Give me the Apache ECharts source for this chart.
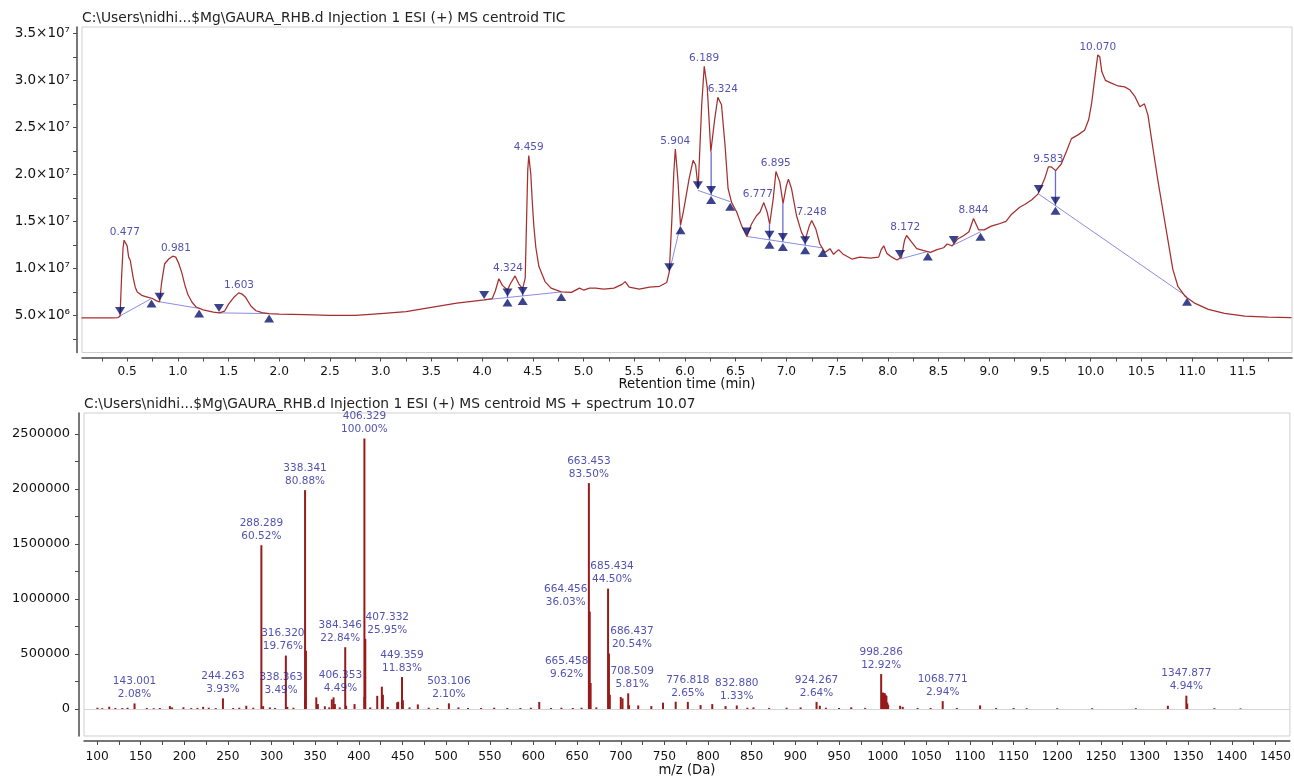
<!DOCTYPE html>
<html><head><meta charset="utf-8">
<script src="https://cdn.jsdelivr.net/npm/echarts@6/dist/echarts.min.js"></script>
<style>html,body{margin:0;padding:0;background:#fff}#c{width:1294px;height:779px}</style>
</head><body><div id="c"></div>
<script>
// ---------- TOP: TIC chromatogram ----------
const topTitle = 'C:\\Users\\nidhi...$Mg\\GAURA_RHB.d Injection 1 ESI (+) MS centroid TIC';
const bottomTitle = 'C:\\Users\\nidhi...$Mg\\GAURA_RHB.d Injection 1 ESI (+) MS centroid MS + spectrum 10.07';

const ticTime = [0.05,0.20,0.35,0.41,0.43,0.445,0.46,0.47,0.485,0.50,0.515,0.53,0.545,0.56,0.58,0.60,0.65,0.70,0.75,0.79,0.82,0.84,0.87,0.91,0.95,0.98,1.01,1.04,1.07,1.10,1.14,1.18,1.25,1.35,1.41,1.46,1.50,1.55,1.60,1.63,1.67,1.72,1.77,1.83,1.90,2.0,2.25,2.5,2.75,3.0,3.25,3.5,3.75,3.9,4.02,4.10,4.13,4.165,4.20,4.25,4.28,4.325,4.365,4.40,4.425,4.44,4.45,4.46,4.47,4.48,4.495,4.51,4.53,4.56,4.62,4.68,4.78,4.88,4.96,5.0,5.06,5.12,5.2,5.3,5.38,5.41,5.45,5.55,5.65,5.75,5.82,5.845,5.87,5.89,5.905,5.93,5.956,5.98,6.00,6.04,6.08,6.105,6.13,6.165,6.19,6.22,6.255,6.29,6.324,6.36,6.395,6.425,6.46,6.51,6.56,6.61,6.655,6.705,6.74,6.777,6.81,6.835,6.87,6.897,6.935,6.967,7.0,7.02,7.05,7.10,7.15,7.187,7.225,7.25,7.29,7.33,7.38,7.43,7.465,7.515,7.56,7.645,7.725,7.83,7.91,7.935,7.96,7.99,8.04,8.09,8.135,8.165,8.185,8.235,8.285,8.355,8.42,8.485,8.55,8.585,8.635,8.685,8.75,8.80,8.845,8.895,8.95,9.02,9.085,9.165,9.215,9.30,9.35,9.42,9.48,9.545,9.583,9.61,9.655,9.71,9.76,9.81,9.875,9.94,9.98,10.01,10.045,10.07,10.09,10.11,10.145,10.205,10.27,10.335,10.385,10.435,10.485,10.53,10.565,10.615,10.665,10.715,10.765,10.81,10.86,10.93,11.03,11.16,11.32,11.52,11.75,11.98];
const ticIntensity = [4.75e6,4.73e6,4.75e6,4.78e6,4.95e6,9.0e6,1.22e7,1.30e7,1.28e7,1.24e7,1.12e7,1.09e7,1.08e7,9.0e6,8.0e6,7.5e6,7.1e6,6.95e6,6.8e6,6.55e6,6.45e6,8.5e6,1.05e7,1.10e7,1.13e7,1.12e7,1.05e7,9.5e6,8.2e6,7.2e6,6.4e6,5.9e6,5.6e6,5.35e6,5.27e6,5.45e6,6.2e6,6.9e6,7.4e6,7.3e6,6.9e6,6.0e6,5.5e6,5.3e6,5.2e6,5.14e6,5.08e6,5.02e6,5.0e6,5.2e6,5.4e6,5.85e6,6.3e6,6.5e6,6.65e6,6.8e6,7.6e6,8.9e6,8.2e6,7.7e6,8.4e6,9.2e6,8.3e6,7.85e6,9.0e6,1.6e7,2.05e7,2.2e7,2.18e7,2.0e7,1.7e7,1.45e7,1.22e7,1.02e7,8.6e6,7.9e6,7.5e6,7.45e6,7.9e6,7.7e6,7.9e6,7.9e6,7.8e6,7.9e6,8.3e6,8.6e6,8.0e6,7.8e6,8.0e6,8.1e6,8.5e6,9.6e6,1.5e7,2.02e7,2.27e7,1.95e7,1.46e7,1.58e7,1.70e7,1.95e7,2.15e7,2.10e7,1.85e7,2.74e7,3.15e7,2.92e7,2.24e7,2.56e7,2.82e7,2.74e7,2.31e7,1.85e7,1.70e7,1.60e7,1.45e7,1.34e7,1.47e7,1.56e7,1.60e7,1.70e7,1.60e7,1.47e7,1.74e7,2.03e7,1.92e7,1.69e7,1.88e7,1.95e7,1.85e7,1.56e7,1.38e7,1.31e7,1.45e7,1.51e7,1.42e7,1.26e7,1.17e7,1.21e7,1.15e7,1.20e7,1.15e7,1.10e7,1.12e7,1.11e7,1.12e7,1.20e7,1.24e7,1.16e7,1.12e7,1.09e7,1.12e7,1.30e7,1.35e7,1.28e7,1.21e7,1.19e7,1.17e7,1.20e7,1.22e7,1.26e7,1.24e7,1.31e7,1.35e7,1.39e7,1.53e7,1.41e7,1.41e7,1.45e7,1.47e7,1.50e7,1.57e7,1.65e7,1.68e7,1.73e7,1.79e7,1.95e7,2.08e7,2.08e7,2.04e7,2.11e7,2.24e7,2.38e7,2.42e7,2.47e7,2.58e7,2.76e7,3.06e7,3.27e7,3.25e7,3.09e7,3.0e7,2.97e7,2.94e7,2.93e7,2.9e7,2.83e7,2.72e7,2.75e7,2.63e7,2.27e7,1.92e7,1.60e7,1.28e7,9.9e6,8.1e6,7.05e6,6.28e6,5.64e6,5.22e6,4.93e6,4.82e6,4.76e6];

// peak apex labels
const peakRT    = [0.477,0.981,1.603,4.324,4.459,5.904,6.189,6.324,6.777,6.895,7.248,8.172,8.844,9.583,10.070];
const peakLabel = ['0.477','0.981','1.603','4.324','4.459','5.904','6.189','6.324','6.777','6.895','7.248','8.172','8.844','9.583','10.070'];
const peakApex  = [1.30e7,1.13e7,7.4e6,9.2e6,2.2e7,2.27e7,3.15e7,2.82e7,1.70e7,2.03e7,1.51e7,1.35e7,1.53e7,2.08e7,3.27e7];

// integration start (down triangles) and end (up triangles)
const startTime = [0.43,0.82,1.406,4.02,4.25,4.40,5.845,6.127,6.258,6.61,6.833,6.965,7.185,8.12,8.65,9.488,9.653];
const startValue = [4.95e6,6.45e6,5.27e6,6.65e6,6.91e6,7.08e6,9.6e6,1.83e7,1.78e7,1.34e7,1.304e7,1.282e7,1.246e7,1.10e7,1.25e7,1.79e7,1.667e7];
const endTime = [0.74,1.21,1.90,4.25,4.40,4.78,5.956,6.258,6.446,6.833,6.965,7.185,7.359,8.394,8.914,9.653,10.95];
const endValue = [6.8e6,5.75e6,5.2e6,6.91e6,7.08e6,7.5e6,1.46e7,1.78e7,1.71e7,1.304e7,1.282e7,1.246e7,1.218e7,1.18e7,1.39e7,1.667e7,6.99e6];

// baselines: [t1, v1, t2, v2]
const baselines = [
  [0.43,4.95e6,0.74,6.8e6],
  [0.82,6.45e6,1.21,5.75e6],
  [1.406,5.27e6,1.90,5.2e6],
  [4.02,6.65e6,4.78,7.5e6],
  [5.845,9.6e6,5.956,1.46e7],
  [6.127,1.83e7,6.446,1.71e7],
  [6.61,1.34e7,7.359,1.218e7],
  [8.12,1.10e7,8.394,1.18e7],
  [8.65,1.25e7,8.914,1.39e7],
  [9.488,1.79e7,10.95,6.99e6]
];
// drop lines: [t, curve value, baseline value]
const dropLines = [
  [4.25,7.7e6,6.91e6],
  [4.40,7.85e6,7.08e6],
  [6.258,2.24e7,1.78e7],
  [6.833,1.47e7,1.304e7],
  [6.965,1.69e7,1.282e7],
  [7.185,1.31e7,1.246e7],
  [9.653,2.04e7,1.667e7]
];

const topXLabels = [0.5,1.0,1.5,2.0,2.5,3.0,3.5,4.0,4.5,5.0,5.5,6.0,6.5,7.0,7.5,8.0,8.5,9.0,9.5,10.0,10.5,11.0,11.5];
const topXTicks = [0.25,0.5,0.75,1.0,1.25,1.5,1.75,2.0,2.25,2.5,2.75,3.0,3.25,3.5,3.75,4.0,4.25,4.5,4.75,5.0,5.25,5.5,5.75,6.0,6.25,6.5,6.75,7.0,7.25,7.5,7.75,8.0,8.25,8.5,8.75,9.0,9.25,9.5,9.75,10.0,10.25,10.5,10.75,11.0,11.25,11.5,11.75];
const topYLabelValues = [5e6,1e7,1.5e7,2e7,2.5e7,3e7,3.5e7];
const topYLabelText = ['5.0×10⁶','1.0×10⁷','1.5×10⁷','2.0×10⁷','2.5×10⁷','3.0×10⁷','3.5×10⁷'];
const topYTicks = [2.5e6,5e6,7.5e6,1e7,1.25e7,1.5e7,1.75e7,2e7,2.25e7,2.5e7,2.75e7,3e7,3.25e7,3.5e7];

// ---------- BOTTOM: MS spectrum ----------
const specMz = [100.5,106,114,121,129,135,143.001,157,165,172,183.5,186,199,208,215,221.6,228,236,244.263,256,263,271,279,288.289,290.3,298,304,316.32,318,325,338.341,338.363,339.344,351.2,353,361,366,369,371,372.5,378,384.346,385.35,395,406.329,406.353,407.332,413,421,426.3,427.5,433,443.8,445,449.359,450.4,458,467.5,480,490,503.106,514,525,540,555,570,585,597,606.6,620,632,645,655,663.453,664.456,665.458,672,685.434,686.437,687.44,700,702,708.509,709.5,720,735,748.4,762.9,776.818,791.4,804.8,820,832.88,845,852,870,890,906,924.267,928,935,950,964,980,998.286,999.3,1000.3,1001.3,1002.3,1003.3,1004.3,1005.3,1006.3,1020,1023,1040,1055,1068.771,1085,1111.6,1130,1150,1165,1200,1240,1290,1326.7,1347.877,1348.88,1380,1410];
const specIntensity = [1.2e4,8e3,2.1e4,1e4,9e3,1.2e4,5.1e4,1e4,8e3,1e4,2.7e4,1.5e4,1.6e4,9e3,1e4,2e4,1.2e4,9e3,9.7e4,1e4,1.2e4,3e4,1.2e4,1.489e6,2.6e4,1.5e4,1e4,4.86e5,2e4,1.2e4,1.99e6,8.6e4,5.3e5,1.06e5,4.5e4,2.5e4,1.5e4,8.8e4,1.06e5,4.5e4,1.5e4,5.62e5,3e4,4.5e4,2.46e6,1.1e5,6.38e5,1.5e4,1.2e5,2.03e5,1.3e5,2e4,6e4,6.6e4,2.91e5,8e4,1.5e4,4.2e4,1.2e4,1e4,5.2e4,1.5e4,1e4,1e4,1.2e4,1e4,1e4,1.2e4,6.5e4,1e4,1.2e4,1e4,1.2e4,2.054e6,8.86e5,2.37e5,1.5e4,1.095e6,5.05e5,1.3e5,1.1e5,9.7e4,1.43e5,3.5e4,3.3e4,2.7e4,5.8e4,6.7e4,6.5e4,3.6e4,4.5e4,2.7e4,3.27e4,1.2e4,1.5e4,1e4,1.2e4,1.5e4,6.5e4,3e4,1.2e4,1e4,1.6e4,1e4,3.18e5,1.45e5,1.5e5,1.4e5,1.45e5,1.3e5,1.2e5,6e4,4e4,3e4,2e4,1e4,1e4,7.2e4,1e4,3.3e4,1e4,1e4,8e3,8e3,8e3,8e3,3e4,1.215e5,5e4,8e3,6e3];

const labelMz  = ['143.001','244.263','288.289','316.320','338.341','338.363','384.346','406.329','406.353','407.332','449.359','503.106','663.453','664.456','665.458','685.434','686.437','708.509','776.818','832.880','924.267','998.286','1068.771','1347.877'];
const labelPct = ['2.08%','3.93%','60.52%','19.76%','80.88%','3.49%','22.84%','100.00%','4.49%','25.95%','11.83%','2.10%','83.50%','36.03%','9.62%','44.50%','20.54%','5.81%','2.65%','1.33%','2.64%','12.92%','2.94%','4.94%'];

const botXLabels = [100,150,200,250,300,350,400,450,500,550,600,650,700,750,800,850,900,950,1000,1050,1100,1150,1200,1250,1300,1350,1400,1450];
const botXTicks = [100,125,150,175,200,225,250,275,300,325,350,375,400,425,450,475,500,525,550,575,600,625,650,675,700,725,750,775,800,825,850,875,900,925,950,975,1000,1025,1050,1075,1100,1125,1150,1175,1200,1225,1250,1275,1300,1325,1350,1375,1400,1425,1450];
const botYLabels = [0,500000,1000000,1500000,2000000,2500000];
const botYTicks = [-250000,0,250000,500000,750000,1000000,1250000,1500000,1750000,2000000,2250000,2500000];

// ---------- styles ----------
const FONT = "'DejaVu Sans'";
const AXIS_COLOR = '#4a4a4a';
const LABEL_BLUE = '#25259c';
const MARK_BLUE = '#0b1470';
const peakShift = {'4.324': -7, '6.324': 5, '6.777': -6};
const specShift = {'316.320': -3, '338.363': -24, '384.346': -5, '406.353': -24, '407.332': 22, '664.456': -24, '665.458': -24, '685.434': 4, '686.437': 23, '708.509': 4};

function axisCommon(extra) {
  return Object.assign({
    type: 'value',
    splitLine: {show: false},
    axisLine: {show: true, onZero: false, lineStyle: {color: AXIS_COLOR, width: 1.5}},
    axisTick: {show: true, length: 4, lineStyle: {color: AXIS_COLOR, width: 1}},
    axisLabel: {color: '#111', fontFamily: FONT, fontSize: 12}
  }, extra);
}

const ticData = ticTime.map((t, i) => [t, ticIntensity[i]]);
const specData = specMz.map((m, i) => [m, specIntensity[i]]);
const labelData = labelMz.map(s => {
  const m = parseFloat(s);
  let best = 0;
  specMz.forEach((v, i) => { if (Math.abs(v - m) < Math.abs(specMz[best] - m)) best = i; });
  return [specMz[best], specIntensity[best]];
});

const series = [];
series.push({
  type: 'line', xAxisIndex: 0, yAxisIndex: 0, data: ticData,
  showSymbol: false, symbol: 'none', z: 3,
  lineStyle: {color: '#a52f2f', width: 1.25}
});
baselines.forEach(b => series.push({
  type: 'line', xAxisIndex: 0, yAxisIndex: 0, symbol: 'none', z: 2,
  data: [[b[0], b[1]], [b[2], b[3]]],
  lineStyle: {color: '#8c8ce0', width: 1}
}));
dropLines.forEach(d => series.push({
  type: 'line', xAxisIndex: 0, yAxisIndex: 0, symbol: 'none', z: 2,
  data: [[d[0], d[1]], [d[0], d[2]]],
  lineStyle: {color: '#6a6ad4', width: 1.3}
}));
series.push({
  type: 'scatter', xAxisIndex: 0, yAxisIndex: 0, z: 4,
  data: startTime.map((t, i) => [t, startValue[i]]),
  symbol: 'triangle', symbolRotate: 180, symbolSize: [10, 8], symbolOffset: [0, -5],
  itemStyle: {color: MARK_BLUE}
});
series.push({
  type: 'scatter', xAxisIndex: 0, yAxisIndex: 0, z: 4,
  data: endTime.map((t, i) => [t, endValue[i]]),
  symbol: 'triangle', symbolSize: [10, 8], symbolOffset: [0, 5],
  itemStyle: {color: MARK_BLUE}
});
series.push({
  type: 'scatter', xAxisIndex: 0, yAxisIndex: 0, z: 5,
  data: peakRT.map((t, i) => [t, peakApex[i]]),
  symbol: 'circle', symbolSize: 1, itemStyle: {color: 'rgba(0,0,0,0)'},
  label: {
    show: true, position: 'top', distance: 2, color: LABEL_BLUE,
    fontFamily: FONT, fontSize: 10.5,
    formatter: p => peakLabel[p.dataIndex]
  },
  labelLayout: p => ({dx: peakShift[peakLabel[p.dataIndex]] || 0})
});
series.push({
  type: 'bar', xAxisIndex: 1, yAxisIndex: 1, data: specData,
  barWidth: 2, itemStyle: {color: '#981a1a'}, z: 3,
  markLine: {
    silent: true, symbol: 'none', label: {show: false},
    lineStyle: {color: '#d4d4d4', type: 'solid', width: 1},
    data: [{yAxis: 0}]
  }
});
series.push({
  type: 'scatter', xAxisIndex: 1, yAxisIndex: 1, z: 5,
  data: labelData,
  symbol: 'circle', symbolSize: 1, itemStyle: {color: 'rgba(0,0,0,0)'},
  label: {
    show: true, position: 'top', distance: 2, color: LABEL_BLUE,
    fontFamily: FONT, fontSize: 10.5, lineHeight: 13,
    formatter: p => labelMz[p.dataIndex] + '\n' + labelPct[p.dataIndex]
  },
  labelLayout: p => ({dx: specShift[labelMz[p.dataIndex]] || 0})
});

const option = {
  animation: false,
  backgroundColor: '#ffffff',
  textStyle: {fontFamily: FONT},
  title: [
    {text: topTitle, left: 82, top: 11, padding: 0,
     textStyle: {fontFamily: FONT, fontSize: 13.8, fontWeight: 'normal', color: '#222'}},
    {text: bottomTitle, left: 84, top: 397, padding: 0,
     textStyle: {fontFamily: FONT, fontSize: 13.8, fontWeight: 'normal', color: '#222'}}
  ],
  grid: [
    {left: 82, right: 2, top: 27, height: 325.5, show: true, borderColor: '#cfcfcf', borderWidth: 1},
    {left: 84, right: 2, top: 413, height: 323, show: true, borderColor: '#cfcfcf', borderWidth: 1}
  ],
  xAxis: [
    axisCommon({
      gridIndex: 0, min: 0.055, max: 11.985, offset: 5,
      name: 'Retention time (min)', nameLocation: 'middle', nameGap: 21,
      nameTextStyle: {fontFamily: FONT, fontSize: 13.2, color: '#111'},
      axisTick: {show: true, length: 4, customValues: topXTicks, lineStyle: {color: AXIS_COLOR}},
      axisLabel: {customValues: topXLabels, margin: 8, color: '#111', fontFamily: FONT, fontSize: 12.2,
                  formatter: v => v.toFixed(1)}
    }),
    axisCommon({
      gridIndex: 1, min: 85.1, max: 1466.5, offset: 5,
      name: 'm/z (Da)', nameLocation: 'middle', nameGap: 23,
      nameTextStyle: {fontFamily: FONT, fontSize: 13.2, color: '#111'},
      axisTick: {show: true, length: 4, customValues: botXTicks, lineStyle: {color: AXIS_COLOR}},
      axisLabel: {customValues: botXLabels, margin: 10, color: '#111', fontFamily: FONT, fontSize: 12.2,
                  formatter: v => String(v)}
    })
  ],
  yAxis: [
    axisCommon({
      gridIndex: 0, min: 1.06e6, max: 3.567e7, offset: 5,
      axisTick: {show: true, length: 4, customValues: topYTicks, lineStyle: {color: AXIS_COLOR}},
      axisLabel: {customValues: topYLabelValues, margin: 7, color: '#111', fontFamily: FONT, fontSize: 13.5,
                  formatter: v => {
                    const i = topYLabelValues.findIndex(x => Math.abs(x - v) < 1);
                    return i >= 0 ? topYLabelText[i] : '';
                  }}
    }),
    axisCommon({
      gridIndex: 1, min: -245000, max: 2691000, offset: 5,
      axisTick: {show: true, length: 4, customValues: botYTicks, lineStyle: {color: AXIS_COLOR}},
      axisLabel: {customValues: botYLabels, margin: 9, color: '#111', fontFamily: FONT, fontSize: 13,
                  formatter: v => String(v)}
    })
  ],
  series: series
};

const chart = echarts.init(document.getElementById('c'), null, {renderer: 'canvas'});
chart.setOption(option);
</script>
</body></html>
